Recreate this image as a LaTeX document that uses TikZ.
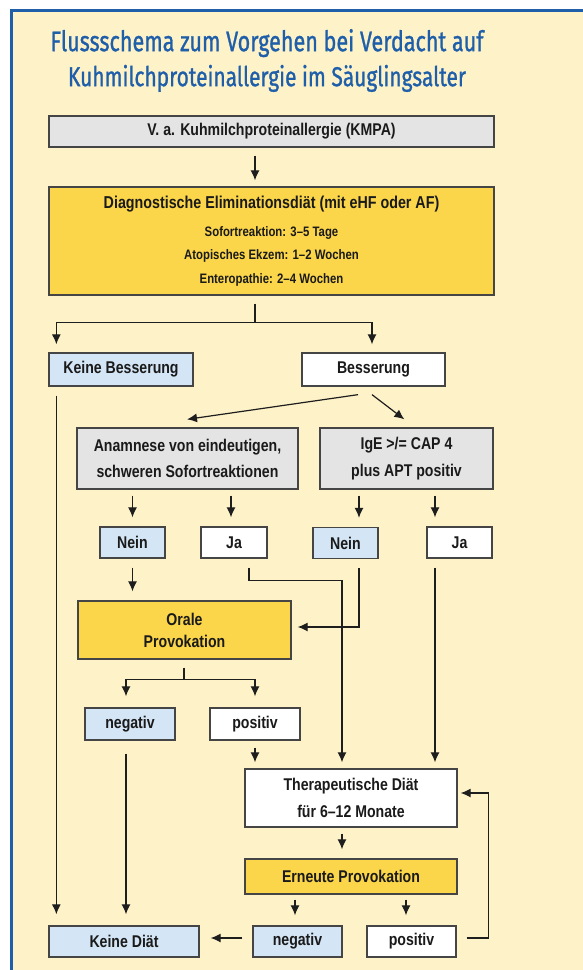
\documentclass[tikz,border=0pt]{standalone}
\usepackage{fontspec}
\setmainfont{Liberation Sans}[FakeStretch=0.83]
\newfontfamily\titlefont{Fira Sans}[FakeBold=1.2]
\usetikzlibrary{arrows.meta,calc}
\definecolor{frameblue}{HTML}{1F5FAA}
\definecolor{bgyellow}{HTML}{FEF2C8}
\definecolor{gold}{HTML}{FBD54A}
\definecolor{lblue}{HTML}{D4E5F5}
\definecolor{lgray}{HTML}{E4E4E4}
\definecolor{boxline}{HTML}{454545}
\definecolor{arrowcol}{HTML}{1E1E1E}
\definecolor{txt}{HTML}{1A1A1A}
\begin{document}
\begin{tikzpicture}[x=1pt,y=-1pt,
  box/.style={draw=boxline, line width=1.3pt, inner sep=0pt, align=center, text=txt,
    font=\bfseries\fontsize{17}{25}\selectfont},
  graybox/.style={box, fill=lgray},
  goldbox/.style={box, fill=gold},
  bluebox/.style={box, fill=lblue},
  whitebox/.style={box, fill=white},
  arr/.style={draw=arrowcol, line width=1.2pt, -{Latex[length=10pt,width=9pt]}},
  conn/.style={draw=arrowcol, line width=1.2pt}]
\useasboundingbox (0,0) rectangle (583,970);
\fill[white] (0,0) rectangle (583,970);
\fill[bgyellow] (11.5,10.5) rectangle (600,990);
\draw[frameblue, line width=3pt] (11.5,990) -- (11.5,10.5) -- (600,10.5);

% title
\node[text=frameblue, align=center, inner sep=0pt, font=\fontsize{10}{35}\selectfont] (title) at (267,60.5)
  {\resizebox*{433pt}{28pt}{\titlefont Flussschema zum Vorgehen bei Verdacht auf}\\
   \resizebox*{398pt}{27pt}{\titlefont Kuhmilchproteinallergie im Säuglingsalter}};

% boxes
\node[graybox, minimum width=445, minimum height=31] (kmpa) at (271.5,131.5) {V. a. Kuhmilchproteinallergie (KMPA)};
\node[goldbox, minimum width=445, minimum height=108, font=\bfseries\fontsize{13.7}{23.5}\selectfont] (diag) at (271.5,241)
  {{\fontsize{17.2}{20}\selectfont Diagnostische Eliminationsdiät (mit eHF oder AF)}\\[4pt]
   Sofortreaktion: 3–5 Tage\\ Atopisches Ekzem: 1–2 Wochen\\ Enteropathie: 2–4 Wochen};
\node[bluebox, minimum width=144, minimum height=33] (keinebess) at (121,369.5) {Keine Besserung};
\node[whitebox, minimum width=143, minimum height=33] (bess) at (373.5,369.5) {Besserung};
\node[graybox, minimum width=221, minimum height=61, font=\bfseries\fontsize{17}{26}\selectfont] (anam) at (187.5,458.5)
  {Anamnese von eindeutigen,\\ schweren Sofortreaktionen};
\node[graybox, minimum width=173, minimum height=61, font=\bfseries\fontsize{17}{27}\selectfont] (ige) at (406.5,458.5)
  {IgE >/= CAP 4\\ plus APT positiv};
\node[bluebox, minimum width=65, minimum height=31] (nein1) at (132.5,542.5) {Nein};
\node[whitebox, minimum width=66, minimum height=31] (ja1) at (234,542.5) {Ja};
\node[bluebox, minimum width=65, minimum height=31] (nein2) at (345.5,543) {Nein};
\node[whitebox, minimum width=65, minimum height=31] (ja2) at (459.5,542.5) {Ja};
\node[goldbox, minimum width=213, minimum height=58, font=\bfseries\fontsize{17}{22}\selectfont] (orale) at (184.5,630)
  {Orale\\ Provokation};
\node[bluebox, minimum width=90, minimum height=32] (neg1) at (130,724) {negativ};
\node[whitebox, minimum width=90, minimum height=32] (pos1) at (255,724) {positiv};
\node[whitebox, minimum width=212, minimum height=58, font=\bfseries\fontsize{17}{27}\selectfont] (thera) at (351,798)
  {Therapeutische Diät\\ für 6–12 Monate};
\node[goldbox, minimum width=212, minimum height=35] (ern) at (351,876.5) {Erneute Provokation};
\node[bluebox, minimum width=150, minimum height=31] (keinediat) at (124,941.5) {Keine Diät};
\node[bluebox, minimum width=89, minimum height=31] (neg2) at (297.5,941.5) {negativ};
\node[whitebox, minimum width=89, minimum height=31] (pos2) at (411.5,941.5) {positiv};

% connectors
\draw[arr] ($(kmpa.south)+(-16.5,8)$) -- ($(diag.north)+(-16.5,-6)$);
\coordinate (dsplit) at ($(diag.south)+(-16.5,27)$);
\draw[conn] ($(diag.south)+(-16.5,8)$) -- (dsplit);
\draw[arr] (dsplit) -| ($(keinebess.north west)+(8,-8)$);
\draw[arr] (dsplit) -| ($(bess.north)+(-1.5,-8)$);

\draw[arr] ($(bess.south)+(-15.5,8)$) -- ($(anam.north)+(-0.5,-8)$);
\draw[arr] ($(bess.south)+(-1.5,8)$) -- ($(ige.north west)+(85,-8)$);

\draw[arr] ($(keinebess.south west)+(8,9)$) -- ($(keinediat.north west)+(8,-11)$);

\draw[arr] ($(anam.south -| nein1.north)+(0,6)$) -- ($(nein1.north)+(0,-9)$);
\draw[arr] ($(anam.south -| ja1.north)+(-3,6)$) -- ($(ja1.north)+(-3,-9)$);
\draw[arr] ($(ige.south -| nein2.north)+(13.5,6)$) -- ($(nein2.north)+(13.5,-9)$);
\draw[arr] ($(ige.south -| ja2.north)+(-24.5,6)$) -- ($(ja2.north)+(-24.5,-9)$);

\draw[arr] ($(nein1.south)+(0,9)$) -- ($(orale.north -| nein1.south)+(0,-9)$);
\draw[arr] ($(nein2.south)+(13.5,9)$) |- ($(orale.east)+(6,-3)$);
\draw[arr] ($(ja1.south)+(15,9)$) -- ++(0,13) -| ($(thera.north)+(-9,-6)$);
\draw[arr] ($(ja2.south)+(-24.5,9)$) -- ($(thera.north)+(84,-6)$);

\coordinate (osplit) at ($(orale.south)+(-0.5,20)$);
\draw[conn] ($(orale.south)+(-0.5,8)$) -- (osplit);
\draw[arr] (osplit) -| ($(neg1.north)+(-4,-11)$);
\draw[arr] (osplit) -| ($(pos1.north)+(0,-11)$);

\draw[arr] ($(neg1.south)+(-4,13)$) -- ($(keinediat.north -| neg1.south)+(-4,-11)$);
\draw[arr] ($(pos1.south)+(0,7)$) -- ($(thera.north -| pos1.south)+(0,-6)$);

\draw[arr] ($(thera.south)+(-9,6)$) -- ($(ern.north)+(-9,-9)$);
\draw[arr] ($(ern.south -| neg2.north)+(-2.5,5)$) -- ($(neg2.north)+(-2.5,-10)$);
\draw[arr] ($(ern.south -| pos2.north)+(-5.5,5)$) -- ($(pos2.north)+(-5.5,-10)$);

\draw[arr] ($(neg2.west)+(-10,-3.5)$) -- ($(keinediat.east)+(11,-3.5)$);
\draw[arr] ($(pos2.east)+(10,-3.5)$) -- ++(22,0) |- ($(thera.east)+(3,-5)$);
\end{tikzpicture}
\end{document}
